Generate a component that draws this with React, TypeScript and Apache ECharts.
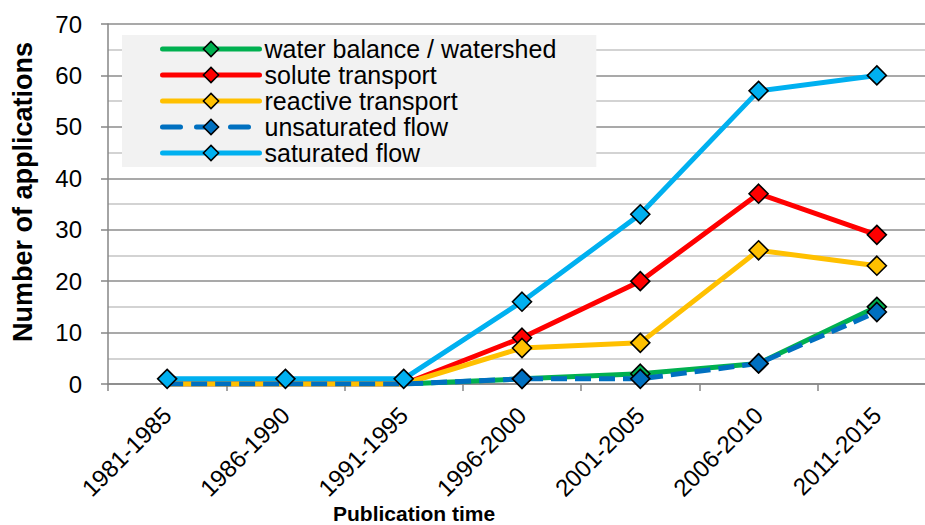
import React, { useEffect, useRef } from "react";
import * as echarts from "echarts";

const categories = ["1981-1985", "1986-1990", "1991-1995", "1996-2000", "2001-2005", "2006-2010", "2011-2015"];
const waterBalance = [0, 0, 0, 1, 2, 4, 15];
const soluteTransport = [0, 0, 0, 9, 20, 37, 29];
const reactiveTransport = [0, 0, 0, 7, 8, 26, 23];
const unsaturatedFlow = [0, 0, 0, 1, 1, 4, 14];
const saturatedFlow = [1, 1, 1, 16, 33, 57, 60];
// categories whose zero values are drawn without a marker (only the line)
const unmarkedCategories = ["1981-1985", "1986-1990", "1991-1995"];

const FONT = "'Liberation Sans', Arial, sans-serif";

const COLORS = {
  water: "#00B050",
  solute: "#FF0000",
  reactive: "#FFC000",
  unsat: "#0070C0",
  sat: "#00B0F0",
};

function mkSeries(name: string, data: number[], color: string, dashed = false, hideEarly = true) {
  return {
    name,
    type: "line",
    data: data.map((v, i) =>
      hideEarly && unmarkedCategories.includes(categories[i]) ? { value: v, symbol: "none" } : v
    ),
    symbol: "diamond",
    symbolSize: 19,
    showSymbol: true,
    lineStyle: { color, width: 5, type: dashed ? [16, 8] : "solid", cap: "butt" },
    itemStyle: { color, borderColor: "#000", borderWidth: 1.6 },
    emphasis: { disabled: true },
  };
}

function legendItem(name: string, color: string, dashed = false) {
  return {
    name,
    lineStyle: { color, width: 5, type: dashed ? [18, 16] : "solid", cap: "round" },
    itemStyle: { color, borderColor: "#000", borderWidth: 1.5 },
  };
}

export default function App() {
  const ref = useRef<HTMLDivElement>(null);
  useEffect(() => {
    if (!ref.current) return;
    const chart = echarts.init(ref.current, undefined, { renderer: "svg" });
    chart.setOption({
      animation: false,
      backgroundColor: "#fff",
      textStyle: { fontFamily: FONT },
      grid: { left: 108, right: 4, top: 24, bottom: 141, containLabel: false },
      legend: {
        show: true,
        orient: "vertical",
        left: 122,
        top: 35,
        backgroundColor: "#F2F2F2",
        padding: [1, 40, 1, 38],
        itemWidth: 97,
        itemHeight: 19,
        itemGap: 0,
        selectedMode: false,
        textStyle: { fontFamily: FONT, fontSize: 25, color: "#000", lineHeight: 26 },
        data: [
          legendItem("water balance / watershed", COLORS.water),
          legendItem("solute transport", COLORS.solute),
          legendItem("reactive transport", COLORS.reactive),
          legendItem("unsaturated flow", COLORS.unsat, true),
          legendItem("saturated flow", COLORS.sat),
        ],
      },
      xAxis: {
        type: "category",
        data: categories,
        boundaryGap: true,
        axisLine: { show: true, lineStyle: { color: "#868686", width: 1.5 } },
        axisTick: { show: true, length: 7, lineStyle: { color: "#868686", width: 1.5 } },
        axisLabel: { rotate: 45, fontSize: 24, color: "#000", fontFamily: FONT, margin: 27 },
        splitLine: { show: false },
      },
      yAxis: {
        type: "value",
        min: 0,
        max: 70,
        interval: 10,
        axisLine: { show: true, lineStyle: { color: "#868686", width: 1.5 } },
        axisTick: { show: true, length: 7, lineStyle: { color: "#868686", width: 1.5 } },
        axisLabel: { fontSize: 24, color: "#000", fontFamily: FONT, margin: 26 },
        splitLine: { show: true, lineStyle: { color: "#8C8C8C", width: 1.5 } },
        minorTick: { show: false, splitNumber: 2 },
        minorSplitLine: { show: true, lineStyle: { color: "#C4C4C4", width: 1.5 } },
      },
      graphic: [
        {
          type: "text",
          left: 333,
          top: 503,
          style: { text: "Publication time", font: `bold 21px ${FONT}`, fill: "#000" },
        },
        {
          type: "text",
          x: 23,
          y: 192,
          rotation: Math.PI / 2,
          style: {
            text: "Number of applications",
            font: `bold 27px ${FONT}`,
            fill: "#000",
            align: "center",
            verticalAlign: "middle",
          },
        },
      ],
      series: [
        mkSeries("water balance / watershed", waterBalance, COLORS.water),
        mkSeries("solute transport", soluteTransport, COLORS.solute),
        mkSeries("reactive transport", reactiveTransport, COLORS.reactive),
        mkSeries("unsaturated flow", unsaturatedFlow, COLORS.unsat, true),
        mkSeries("saturated flow", saturatedFlow, COLORS.sat, false, false),
      ],
    });
    return () => chart.dispose();
  }, []);
  return (
    <div style={{ position: "fixed", left: 0, top: 0, width: 925, height: 525, overflow: "hidden" }}>
      <div ref={ref} style={{ position: "absolute", left: 0, top: 0, width: 940, height: 525 }} />
    </div>
  );
}
